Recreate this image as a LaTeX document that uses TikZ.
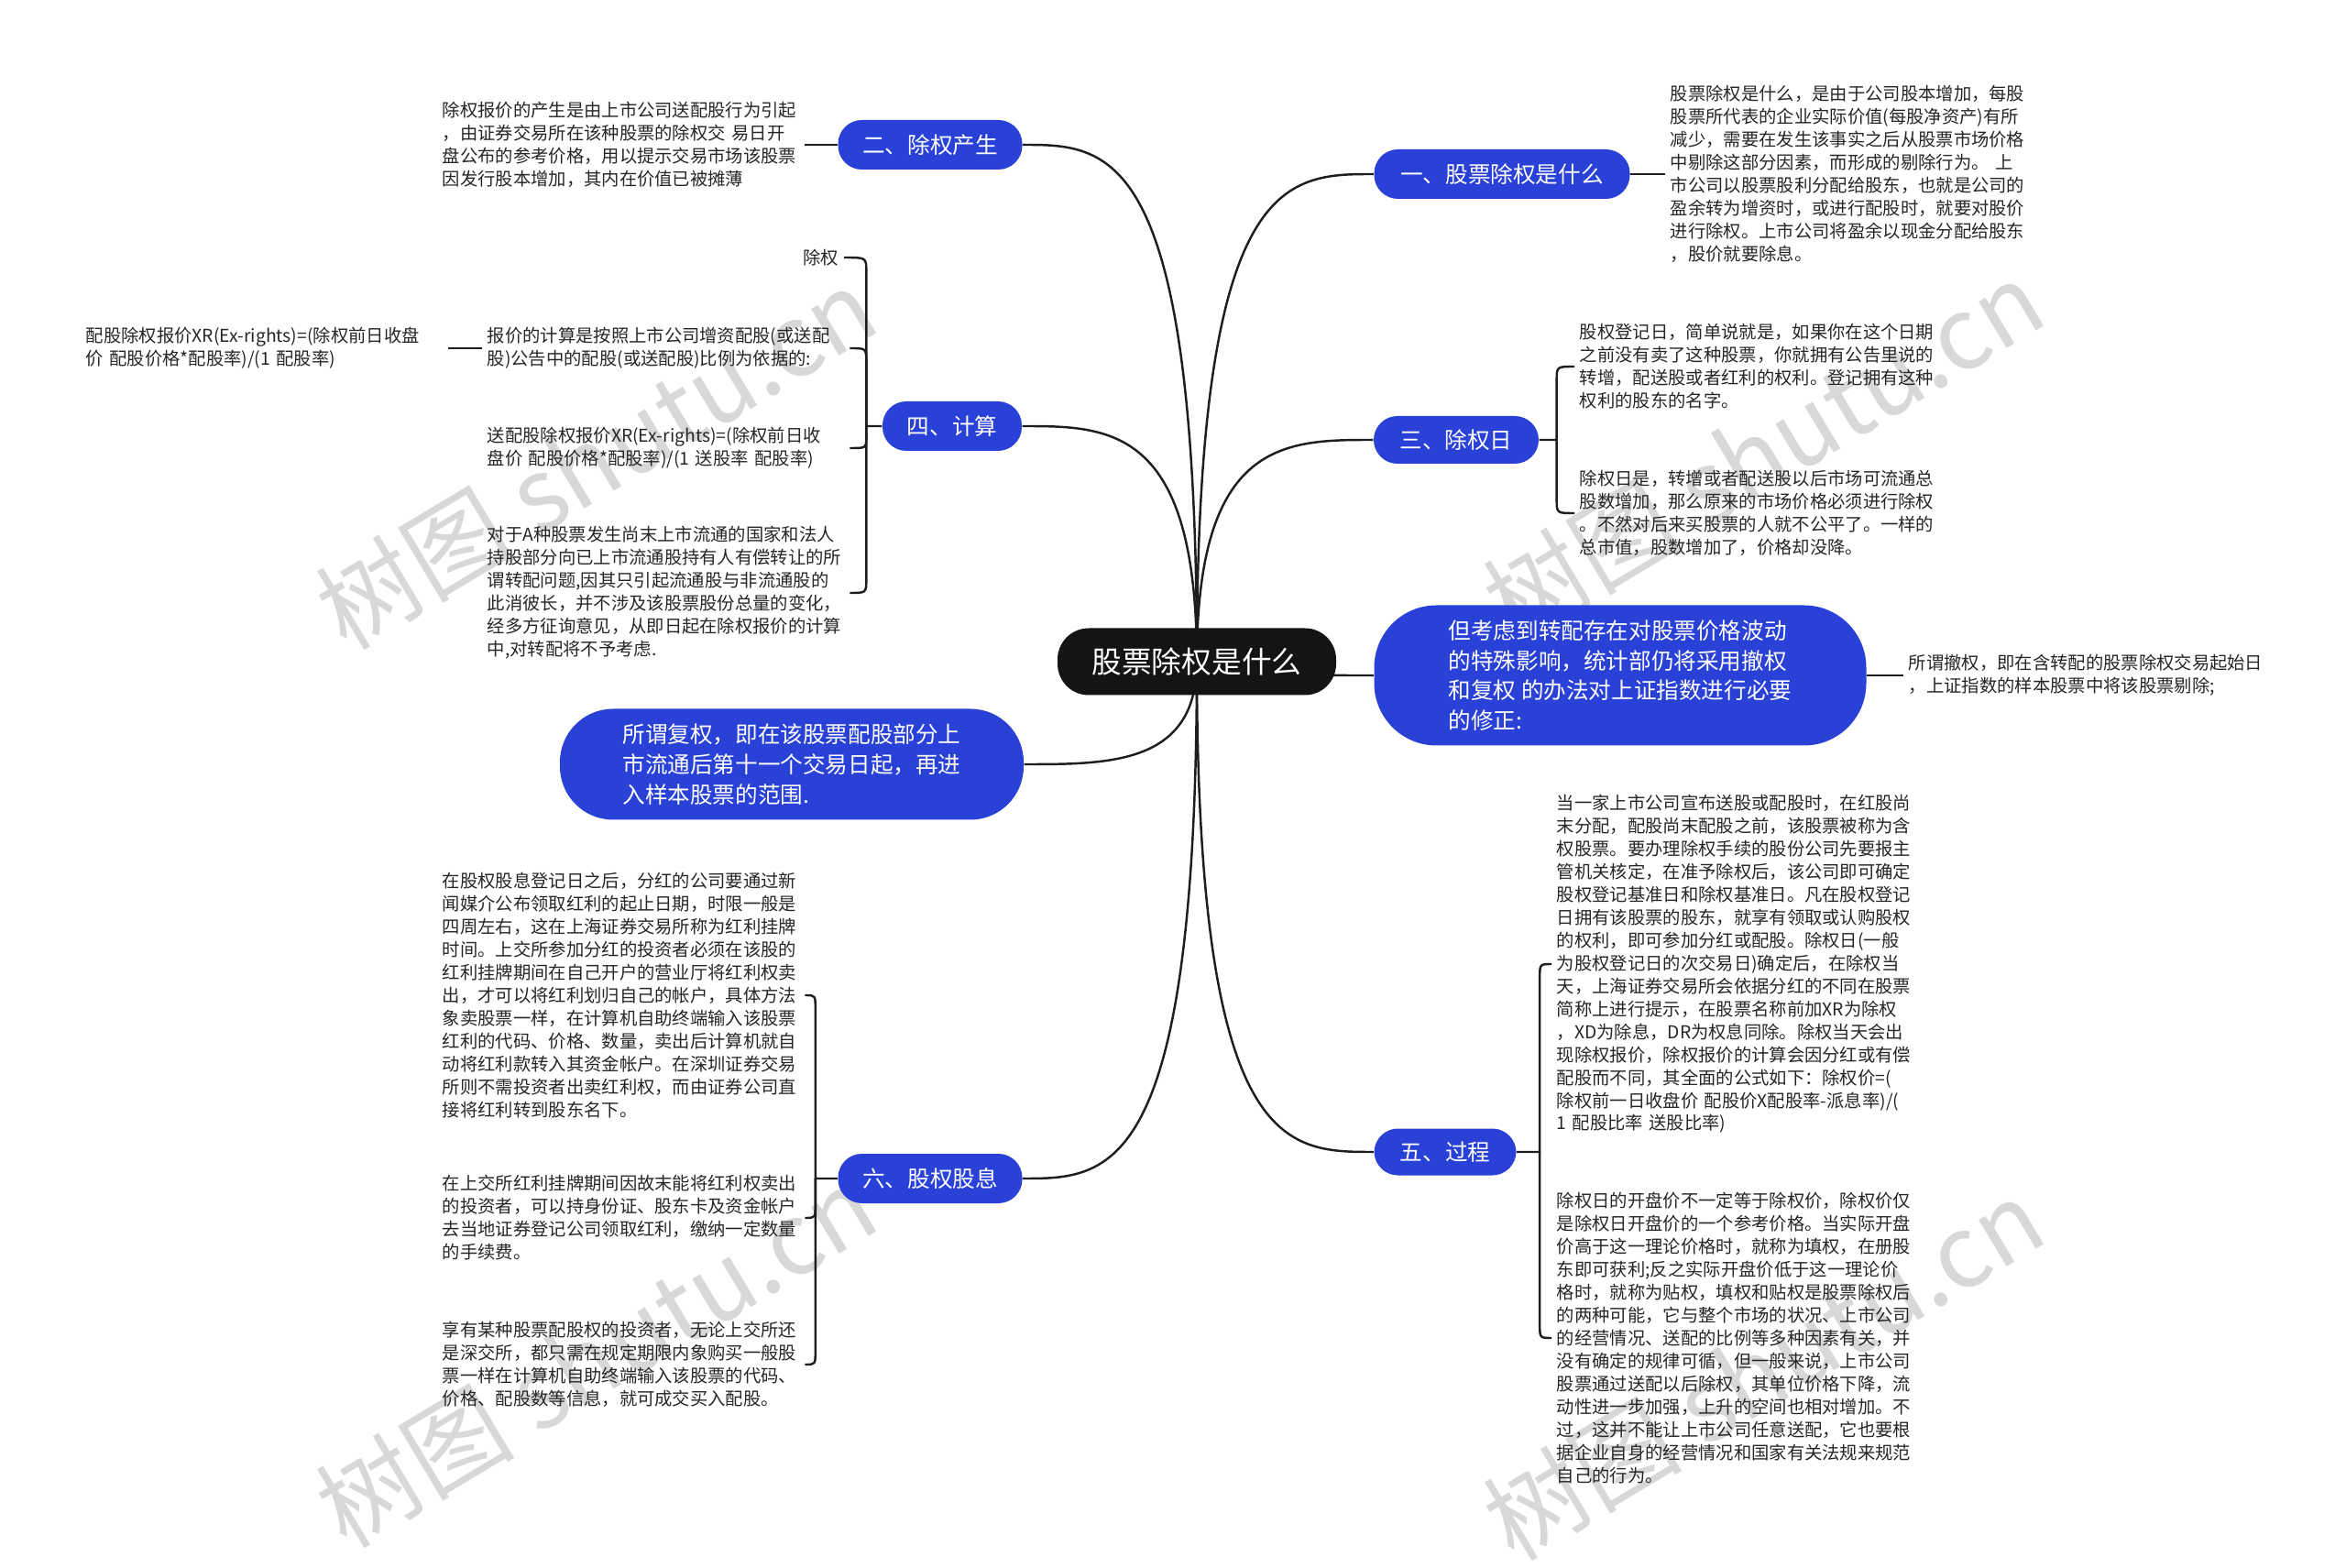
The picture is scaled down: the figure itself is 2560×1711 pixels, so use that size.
\documentclass[tikz,border=0pt]{standalone}
\usepackage{fontspec}
\setmainfont{Noto Sans CJK SC}
\usetikzlibrary{calc}
\pgfdeclarelayer{bgl}
\pgfdeclarelayer{lnl}
\pgfsetlayers{bgl,lnl,main}
\definecolor{nodeblue}{RGB}{41,65,214}
\definecolor{linec}{RGB}{30,30,30}
\definecolor{wmc}{RGB}{216,216,216}
\newcommand\leaffont{\fontsize{5.5pt}{7.1pt}\selectfont}
\begin{document}
\begin{tikzpicture}[x=0.1mm, y=0.1mm,
  conn/.style={draw=linec, line width=0.7pt},
  leaf/.style={inner xsep=0.5mm, inner ysep=0pt, align=left, text width=39mm, font=\leaffont, text=black!85},
  leafshort/.style={inner xsep=0.5mm, inner ysep=0pt, font=\leaffont, text=black!85},
  bnode/.style={fill=nodeblue, text=white, rounded corners=2.6mm, inner sep=0pt, align=left, font=\fontsize{7pt}{9.3pt}\selectfont},
  cnode/.style={fill=black!92, text=white, rounded corners=3.4mm, inner sep=0pt, minimum width=30.4mm, minimum height=7.3mm, font=\fontsize{9.3pt}{11pt}\selectfont},
  wm/.style={rotate=31, text=wmc, font=\fontsize{31pt}{31pt}\selectfont, inner sep=0pt}]
\useasboundingbox (0,0) rectangle (2560,-1711);
\begin{pgfonlayer}{bgl}
\fill[white] (0,0) rectangle (2560,-1711);
\node[wm] (wm1) at (650,-500) {树图 shutu.cn};
\node[wm] (wm2) at (1924,-492) {树图 shutu.cn};
\node[wm] (wm3) at (650,-1480) {树图 shutu.cn};
\node[wm] (wm4) at (1924,-1494) {树图 shutu.cn};
\end{pgfonlayer}

% center
\node[cnode] (c) at (1306,-722) {股票除权是什么};

% branches
\node[bnode, minimum width=27.9mm, minimum height=5.4mm] (n1) at (1639,-190) {一、股票除权是什么};
\node[bnode, minimum width=18mm, minimum height=5.2mm] (n3) at (1589,-480) {三、除权日};
\node[bnode, minimum width=53.7mm, minimum height=15.3mm, rounded corners=6.8mm] (nbig) at (1768,-737) {但考虑到转配存在对股票价格波动\\的特殊影响，统计部仍将采用撤权\\和复权 的办法对上证指数进行必要\\的修正:};
\node[bnode, minimum width=15.5mm, minimum height=5.1mm] (n5) at (1577,-1257) {五、过程};
\node[bnode, minimum width=20.1mm, minimum height=5.4mm] (n2) at (1015,-158) {二、除权产生};
\node[bnode, minimum width=15.2mm, minimum height=5.4mm] (n4) at (1039,-465) {四、计算};
\node[bnode, minimum width=50.6mm, minimum height=12.1mm, rounded corners=5.8mm] (nfu) at (864,-834) {所谓复权，即在该股票配股部分上\\市流通后第十一个交易日起，再进\\入样本股票的范围.};
\node[bnode, minimum width=20.1mm, minimum height=5.4mm] (n6) at (1015,-1286) {六、股权股息};

% right leaves
\node[leaf, anchor=west] (L1) at (1817,-190) {股票除权是什么，是由于公司股本增加，每股\\股票所代表的企业实际价值(每股净资产)有所\\减少，需要在发生该事实之后从股票市场价格\\中剔除这部分因素，而形成的剔除行为。 上\\市公司以股票股利分配给股东，也就是公司的\\盈余转为增资时，或进行配股时，就要对股价\\进行除权。上市公司将盈余以现金分配给股东\\，股价就要除息。};
\node[leaf, anchor=west] (L3a) at (1718,-400) {股权登记日，简单说就是，如果你在这个日期\\之前没有卖了这种股票，你就拥有公告里说的\\转增，配送股或者红利的权利。登记拥有这种\\权利的股东的名字。};
\node[leaf, anchor=west] (L3b) at (1718,-560) {除权日是，转增或者配送股以后市场可流通总\\股数增加，那么原来的市场价格必须进行除权\\。不然对后来买股票的人就不公平了。一样的\\总市值，股数增加了，价格却没降。};
\node[leaf, anchor=west] (Lbig) at (2077,-737) {所谓撤权，即在含转配的股票除权交易起始日\\，上证指数的样本股票中将该股票剔除;};
\node[leaf, anchor=west] (L5a) at (1693,-1052) {当一家上市公司宣布送股或配股时，在红股尚\\末分配，配股尚末配股之前，该股票被称为含\\权股票。要办理除权手续的股份公司先要报主\\管机关核定，在准予除权后，该公司即可确定\\股权登记基准日和除权基准日。凡在股权登记\\日拥有该股票的股东，就享有领取或认购股权\\的权利，即可参加分红或配股。除权日(一般\\为股权登记日的次交易日)确定后，在除权当\\天，上海证券交易所会依据分红的不同在股票\\简称上进行提示，在股票名称前加XR为除权\\，XD为除息，DR为权息同除。除权当天会出\\现除权报价，除权报价的计算会因分红或有偿\\配股而不同，其全面的公式如下：除权价=(\\除权前一日收盘价 配股价X配股率-派息率)/(\\1 配股比率 送股比率)};
\node[leaf, anchor=west] (L5b) at (1693,-1460) {除权日的开盘价不一定等于除权价，除权价仅\\是除权日开盘价的一个参考价格。当实际开盘\\价高于这一理论价格时，就称为填权，在册股\\东即可获利;反之实际开盘价低于这一理论价\\格时，就称为贴权，填权和贴权是股票除权后\\的两种可能，它与整个市场的状况、上市公司\\的经营情况、送配的比例等多种因素有关，并\\没有确定的规律可循，但一般来说，上市公司\\股票通过送配以后除权，其单位价格下降，流\\动性进一步加强，上升的空间也相对增加。不\\过，这并不能让上市公司任意送配，它也要根\\据企业自身的经营情况和国家有关法规来规范\\自己的行为。};

% left leaves
\node[leaf, anchor=west] (L2) at (477,-158) {除权报价的产生是由上市公司送配股行为引起\\，由证券交易所在该种股票的除权交 易日开\\盘公布的参考价格，用以提示交易市场该股票\\因发行股本增加，其内在价值已被摊薄};
\node[leafshort, anchor=east] (L4a) at (921,-281) {除权};
\node[leaf, anchor=west] (L4b) at (526,-380) {报价的计算是按照上市公司增资配股(或送配\\股)公告中的配股(或送配股)比例为依据的:};
\node[leaf, anchor=west] (L4bb) at (88,-380) {配股除权报价XR(Ex-rights)=(除权前日收盘\\价 配股价格*配股率)/(1 配股率)};
\node[leaf, anchor=west] (L4c) at (526,-489) {送配股除权报价XR(Ex-rights)=(除权前日收\\盘价 配股价格*配股率)/(1 送股率 配股率)};
\node[leaf, anchor=west] (L4d) at (526,-647) {对于A种股票发生尚末上市流通的国家和法人\\持股部分向已上市流通股持有人有偿转让的所\\谓转配问题,因其只引起流通股与非流通股的\\此消彼长，并不涉及该股票股份总量的变化，\\经多方征询意见，从即日起在除权报价的计算\\中,对转配将不予考虑.};
\node[leaf, anchor=west] (L6a) at (477,-1086) {在股权股息登记日之后，分红的公司要通过新\\闻媒介公布领取红利的起止日期，时限一般是\\四周左右，这在上海证券交易所称为红利挂牌\\时间。上交所参加分红的投资者必须在该股的\\红利挂牌期间在自己开户的营业厅将红利权卖\\出，才可以将红利划归自己的帐户，具体方法\\象卖股票一样，在计算机自助终端输入该股票\\红利的代码、价格、数量，卖出后计算机就自\\动将红利款转入其资金帐户。在深圳证券交易\\所则不需投资者出卖红利权，而由证券公司直\\接将红利转到股东名下。};
\node[leaf, anchor=west] (L6b) at (477,-1329) {在上交所红利挂牌期间因故末能将红利权卖出\\的投资者，可以持身份证、股东卡及资金帐户\\去当地证券登记公司领取红利，缴纳一定数量\\的手续费。};
\node[leaf, anchor=west] (L6c) at (477,-1489) {享有某种股票配股权的投资者，无论上交所还\\是深交所，都只需在规定期限内象购买一般股\\票一样在计算机自助终端输入该股票的代码、\\价格、配股数等信息，就可成交买入配股。};

\begin{pgfonlayer}{lnl}
\foreach \b in {n1,n3,nbig,n5}
  \draw[conn] (c.center) .. controls (c.center |- \b.west) and ($(c.center |- \b.west)!0.5!(\b.west)$) .. (\b.west);
\foreach \b in {n2,n4,nfu,n6}
  \draw[conn] (c.center) .. controls (c.center |- \b.east) and ($(c.center |- \b.east)!0.5!(\b.east)$) .. (\b.east);

\draw[conn] (n1.east) -- (L1.west);
\draw[conn] (L2.east) -- (n2.west);
\draw[conn] (nbig.east) -- (Lbig.west);
\draw[conn] (L4bb.east) -- (L4b.west);

% bracket 三
\coordinate (b3) at ($(n3.east)+(19,0)$);
\draw[conn] (n3.east) -- (b3) -- ($(b3 |- L3a.west)+(0,-15)$) .. controls (b3 |- L3a.west) .. (L3a.west);
\draw[conn] (b3) -- ($(b3 |- L3b.west)+(0,15)$) .. controls (b3 |- L3b.west) .. (L3b.west);

% bracket 五
\coordinate (b5) at ($(n5.east)+(25,0)$);
\draw[conn] (n5.east) -- (b5) -- ($(b5 |- L5a.west)+(0,-15)$) .. controls (b5 |- L5a.west) .. (L5a.west);
\draw[conn] (b5) -- ($(b5 |- L5b.west)+(0,15)$) .. controls (b5 |- L5b.west) .. (L5b.west);

% bracket 四
\coordinate (b4) at ($(n4.west)+(-17,0)$);
\draw[conn] (n4.west) -- (b4) -- ($(b4 |- L4a.east)+(0,-15)$) .. controls (b4 |- L4a.east) .. (L4a.east);
\draw[conn] (b4) -- ($(b4 |- L4b.east)+(0,-15)$) .. controls (b4 |- L4b.east) .. (L4b.east);
\draw[conn] (b4) -- ($(b4 |- L4c.east)+(0,12)$) .. controls (b4 |- L4c.east) .. (L4c.east);
\draw[conn] (b4) -- ($(b4 |- L4d.east)+(0,15)$) .. controls (b4 |- L4d.east) .. (L4d.east);

% bracket 六
\coordinate (b6) at ($(n6.west)+(-24,0)$);
\draw[conn] (n6.west) -- (b6) -- ($(b6 |- L6a.east)+(0,-15)$) .. controls (b6 |- L6a.east) .. (L6a.east);
\draw[conn] (b6) -- ($(b6 |- L6b.east)+(0,15)$) .. controls (b6 |- L6b.east) .. (L6b.east);
\draw[conn] (b6) -- ($(b6 |- L6c.east)+(0,15)$) .. controls (b6 |- L6c.east) .. (L6c.east);
\end{pgfonlayer}
\end{tikzpicture}
\end{document}
